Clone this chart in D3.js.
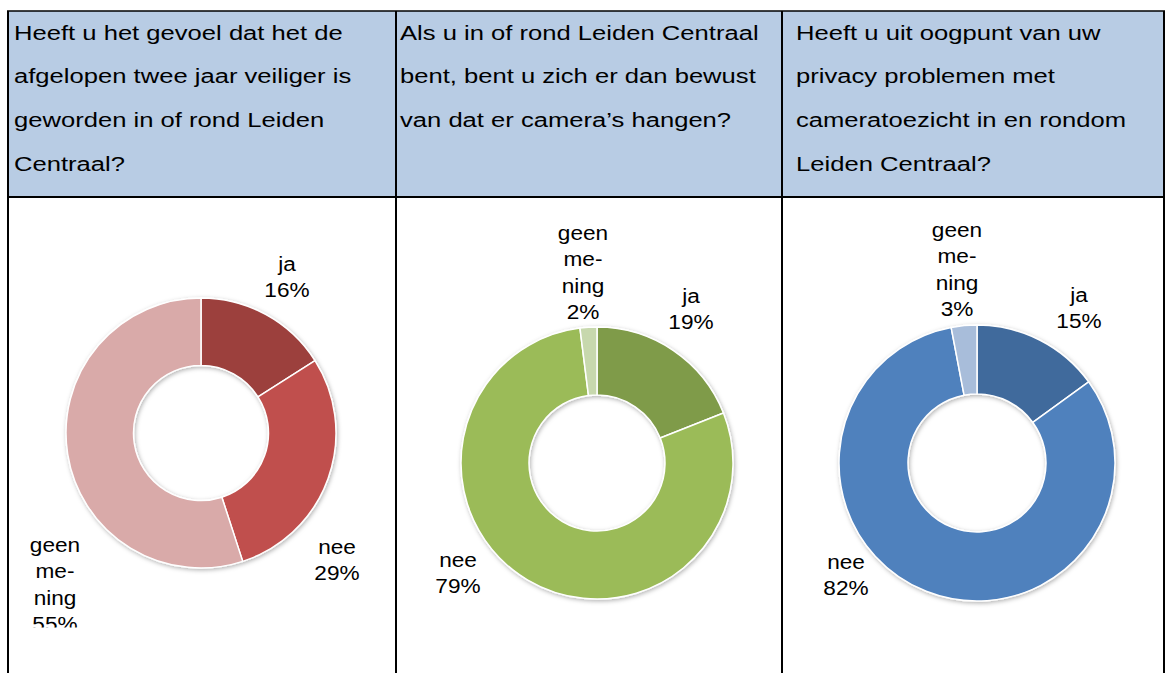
<!DOCTYPE html>
<html>
<head>
<meta charset="utf-8">
<script src="https://cdn.jsdelivr.net/npm/d3@7"></script>
<style>
  html, body { margin: 0; padding: 0; background: #ffffff; }
  svg { display: block; }
  text { font-family: "Liberation Sans", Arial, sans-serif; fill: #000; }
</style>
</head>
<body>
<svg id="chart" width="1165" height="673"></svg>
<script>
// ---------------- data ----------------
const categories = ["ja", "nee", "geen mening"];
const valuesVeiliger = [16, 29, 55];
const valuesBewust = [19, 79, 2];
const valuesPrivacy = [15, 82, 3];

const questionVeiliger = ["Heeft u het gevoel dat het de", "afgelopen twee jaar veiliger is", "geworden in of rond Leiden", "Centraal?"];
const questionBewust = ["Als u in of rond Leiden Centraal", "bent, bent u zich er dan bewust", "van dat er camera’s hangen?"];
const questionPrivacy = ["Heeft u uit oogpunt van uw", "privacy problemen met", "cameratoezicht in en rondom", "Leiden Centraal?"];

const categoryLabelLines = [["ja"], ["nee"], ["geen", "me-", "ning"]];

const coloursRed = ["#9c3f3d", "#c0504d", "#d9aaa9"];
const coloursGreen = ["#7f9b48", "#9bbb59", "#c7d8ad"];
const coloursBlue = ["#416a9c", "#4f81bd", "#a8bdda"];

// ---------------- layout ----------------
const W = 1165, H = 673;
const tableLeft = 8, tableRight = 1164, tableTop = 11, headerBottom = 197;
const colEdges = [8, 396, 782, 1164];
const headerTextX = [14, 400, 796];
const headerBaseline0 = 39.5, headerLineStep = 43.7;
const headerStretch = 1.28, labelStretch = 1.16;
const labelLineStep = 26.3;

const panels = [
  { values: valuesVeiliger, colours: coloursRed, question: questionVeiliger,
    cx: 201, cy: 433, r: 135,
    labelPos: [[86, -162], [136, 121], [-146, 119]] },
  { values: valuesBewust, colours: coloursGreen, question: questionBewust,
    cx: 597, cy: 463, r: 136,
    labelPos: [[94, -160], [-139, 104], [-14, -223]] },
  { values: valuesPrivacy, colours: coloursBlue, question: questionPrivacy,
    cx: 977, cy: 463, r: 138,
    labelPos: [[102, -161], [-131, 106], [-20, -226]] }
];

const svg = d3.select("#chart");
const defs = svg.append("defs");
const filt = defs.append("filter").attr("id", "shadow")
  .attr("x", "-20%").attr("y", "-20%").attr("width", "140%").attr("height", "140%");
filt.append("feDropShadow").attr("dx", 1).attr("dy", 1.5)
  .attr("stdDeviation", 2).attr("flood-color", "#000").attr("flood-opacity", 0.3);

// header background
svg.append("rect").attr("x", tableLeft).attr("y", tableTop)
  .attr("width", tableRight - tableLeft).attr("height", headerBottom - tableTop)
  .attr("fill", "#b8cce4");

// header text
panels.forEach((p, i) => {
  p.question.forEach((line, j) => {
    svg.append("text")
      .attr("transform", `translate(${headerTextX[i]},${headerBaseline0 + j * headerLineStep}) scale(${headerStretch},1)`)
      .attr("font-size", 20)
      .text(line);
  });
});

// donuts
const pie = d3.pie().sort(null).value(d => d.value);
panels.forEach((p, i) => {
  const data = categories.map((c, k) => ({ category: c, value: p.values[k], lines: categoryLabelLines[k], colour: p.colours[k], pos: p.labelPos[k] }));
  const clipId = "clip" + i;
  defs.append("clipPath").attr("id", clipId).append("rect")
    .attr("x", colEdges[i] + 2).attr("y", headerBottom + 2)
    .attr("width", colEdges[i + 1] - colEdges[i] - 4).attr("height", p.cy + 194.5 - headerBottom - 2);

  const g = svg.append("g").attr("clip-path", `url(#${clipId})`)
    .append("g").attr("transform", `translate(${p.cx},${p.cy})`);

  const arc = d3.arc().innerRadius(p.r * 0.5).outerRadius(p.r);
  const ring = g.append("g").attr("filter", "url(#shadow)");
  ring.selectAll("path").data(pie(data)).join("path")
    .attr("d", arc)
    .attr("fill", d => d.data.colour)
    .attr("stroke", "#ffffff")
    .attr("stroke-width", 1.5)
    .attr("stroke-linejoin", "round");

  const labels = g.selectAll("g.lbl").data(data).join("g").attr("class", "lbl");
  labels.each(function(d) {
    const lg = d3.select(this);
    const lines = d.lines.concat([d.value + "%"]);
    lines.forEach((t, j) => {
      lg.append("text")
        .attr("transform", `translate(${d.pos[0]},${d.pos[1] + j * labelLineStep}) scale(${labelStretch},1)`)
        .attr("text-anchor", "middle")
        .attr("font-size", 19.5)
        .text(t);
    });
  });
});

// table borders
const border = svg.append("g").attr("stroke", "#000").attr("fill", "none");
border.append("line").attr("x1", tableLeft - 1).attr("x2", tableRight + 1).attr("y1", tableTop).attr("y2", tableTop).attr("stroke-width", 1.5);
border.append("line").attr("x1", tableLeft - 1).attr("x2", tableRight + 1).attr("y1", headerBottom).attr("y2", headerBottom).attr("stroke-width", 2);
colEdges.forEach(x => {
  border.append("line").attr("x1", x).attr("x2", x).attr("y1", tableTop).attr("y2", H).attr("stroke-width", 2);
});
</script>
</body>
</html>
